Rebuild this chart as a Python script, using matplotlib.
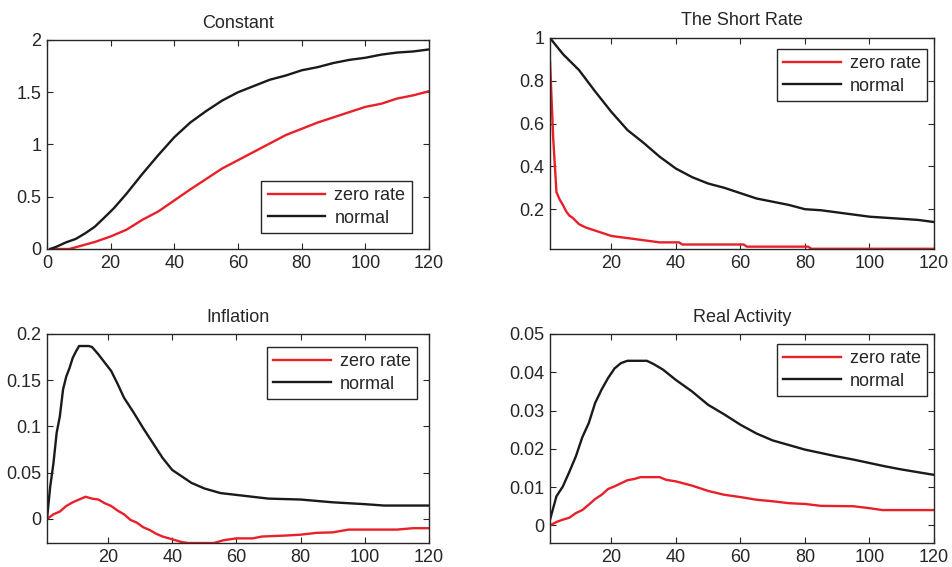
import numpy as np
import matplotlib.pyplot as plt
from matplotlib.ticker import FuncFormatter

plt.rcParams['font.family'] = ['Liberation Sans', 'DejaVu Sans']

# --- Constant ---
const_x = [1, 3, 6, 9, 12, 15, 18, 21, 25, 30, 35, 40, 45, 50, 55, 60, 65, 70, 75, 80, 85, 90, 95, 100, 105, 110, 115, 120]
const_normal = [0, 0.022, 0.064, 0.096, 0.15, 0.213, 0.30, 0.39, 0.53, 0.72, 0.90, 1.07, 1.21, 1.32, 1.42, 1.50, 1.56, 1.62, 1.66, 1.71, 1.74, 1.78, 1.81, 1.83, 1.86, 1.88, 1.89, 1.91]
const_zx = [1, 7, 10, 15, 20, 25, 30, 35, 40, 45, 50, 55, 60, 65, 70, 75, 80, 85, 90, 95, 100, 105, 110, 115, 120]
const_zero = [0, 0, 0.025, 0.067, 0.12, 0.185, 0.28, 0.36, 0.465, 0.57, 0.67, 0.77, 0.85, 0.93, 1.01, 1.09, 1.15, 1.21, 1.26, 1.31, 1.36, 1.39, 1.44, 1.47, 1.51]

# --- Short rate ---
short_x = [1, 5, 10, 15, 20, 25, 30, 35, 40, 45, 50, 55, 60, 65, 70, 75, 80, 85, 90, 95, 100, 105, 110, 115, 120]
short_normal = [1.0, 0.925, 0.85, 0.75, 0.655, 0.57, 0.51, 0.445, 0.39, 0.35, 0.32, 0.30, 0.275, 0.25, 0.235, 0.22, 0.20, 0.195, 0.185, 0.175, 0.165, 0.16, 0.155, 0.15, 0.14]
short_zx = [1, 2, 3, 4, 5, 6, 7, 8, 10, 12, 15, 18, 20, 25, 30, 35, 41, 42, 61, 62, 81, 82, 120]
short_zero = [0.89, 0.53, 0.28, 0.245, 0.22, 0.19, 0.17, 0.16, 0.13, 0.115, 0.10, 0.085, 0.075, 0.065, 0.055, 0.045, 0.045, 0.035, 0.035, 0.025, 0.025, 0.015, 0.015]

# --- Inflation ---
infl_x = [1, 2, 3, 4, 5, 6, 7, 8, 9, 10, 11, 14, 15, 17, 19, 21, 23, 25, 28, 31, 34, 37, 40, 43, 46, 50, 55, 60, 65, 70, 80, 90, 100, 106, 120]
infl_normal = [0, 0.035, 0.06, 0.093, 0.111, 0.14, 0.154, 0.163, 0.174, 0.181, 0.187, 0.187, 0.186, 0.178, 0.169, 0.16, 0.146, 0.131, 0.115, 0.098, 0.082, 0.066, 0.053, 0.046, 0.039, 0.033, 0.028, 0.026, 0.024, 0.022, 0.021, 0.018, 0.016, 0.0145, 0.0145]
infl_zx = [1, 3, 5, 7, 9, 11, 13, 15, 17, 19, 21, 23, 25, 27, 29, 31, 33, 35, 37, 40, 43, 45, 53, 56, 60, 65, 68, 75, 80, 85, 90, 95, 110, 115, 120]
infl_zero = [0, 0.005, 0.008, 0.014, 0.018, 0.021, 0.024, 0.022, 0.021, 0.017, 0.014, 0.009, 0.005, -0.001, -0.004, -0.009, -0.012, -0.016, -0.019, -0.022, -0.025, -0.026, -0.026, -0.023, -0.021, -0.021, -0.019, -0.018, -0.017, -0.015, -0.0145, -0.0115, -0.0115, -0.010, -0.010]

# --- Real activity ---
real_x = [1, 3, 5, 7, 9, 11, 13, 15, 17, 19, 21, 23, 25, 31, 33, 36, 40, 45, 50, 55, 60, 65, 70, 75, 80, 85, 90, 95, 100, 105, 110, 115, 120]
real_normal = [0.0015, 0.0076, 0.0102, 0.014, 0.018, 0.023, 0.0267, 0.032, 0.0355, 0.0385, 0.041, 0.0424, 0.043, 0.043, 0.0422, 0.0407, 0.038, 0.035, 0.0315, 0.029, 0.0263, 0.024, 0.0222, 0.021, 0.0198, 0.0189, 0.018, 0.0172, 0.0163, 0.0154, 0.0146, 0.0139, 0.0132]
real_zx = [1, 3, 5, 7, 9, 11, 13, 15, 17, 19, 21, 23, 25, 27, 29, 35, 37, 40, 45, 50, 55, 60, 65, 70, 75, 80, 85, 95, 100, 104, 120]
real_zero = [0, 0.0009, 0.0015, 0.002, 0.0032, 0.004, 0.0054, 0.0069, 0.008, 0.0095, 0.0102, 0.011, 0.0118, 0.0121, 0.0126, 0.0126, 0.0119, 0.0115, 0.0104, 0.009, 0.008, 0.0074, 0.0067, 0.0063, 0.0058, 0.0056, 0.0051, 0.005, 0.0045, 0.004, 0.004]

red = '#e8202a'
black = '#1a1a1a'
ink = '#262626'

fig = plt.figure(figsize=(9.53, 5.67), dpi=100)
W, H = 953, 567


def make_ax(l, t, r, b):
    return fig.add_axes([l / W, 1 - b / H, (r - l) / W, (b - t) / H])


panels = [
    (make_ax(47, 40, 429, 249), 'Constant', const_x, const_normal, const_zx, const_zero,
     (0, 120), (0, 2), np.arange(0, 121, 20), np.arange(0, 2.01, 0.5), (0.955, 0.325)),
    (make_ax(550, 38, 934, 249), 'The Short Rate', short_x, short_normal, short_zx, short_zero,
     (1, 120), (0.014, 1.0), np.arange(20, 121, 20), [0.2, 0.4, 0.6, 0.8, 1.0], (0.982, 0.948)),
    (make_ax(47, 334, 429, 543), 'Inflation', infl_x, infl_normal, infl_zx, infl_zero,
     (1, 120), (-0.026, 0.2), np.arange(20, 121, 20), [0, 0.05, 0.1, 0.15, 0.2], (0.969, 0.938)),
    (make_ax(550, 334, 934, 543), 'Real Activity', real_x, real_normal, real_zx, real_zero,
     (1, 120), (-0.0046, 0.05), np.arange(20, 121, 20), [0, 0.01, 0.02, 0.03, 0.04, 0.05], (0.982, 0.952)),
]

fmt = FuncFormatter(lambda v, p: '%g' % round(v, 6))

for ax, title, xn, yn, xz, yz, xl, yl, xt, yt, leg_anchor in panels:
    ax.plot(xz, yz, color=red, lw=1.7, label='zero rate')
    ax.plot(xn, yn, color=black, lw=1.7, label='normal')
    ax.set_xlim(*xl)
    ax.set_ylim(*yl)
    ax.set_xticks(xt)
    ax.set_yticks(yt)
    ax.xaxis.set_major_formatter(fmt)
    ax.yaxis.set_major_formatter(fmt)
    ax.tick_params(direction='in', length=4, width=0.8, top=True, right=True,
                   labelsize=13, colors=ink, pad=4)
    for s in ax.spines.values():
        s.set_color(ink)
        s.set_linewidth(1.0)
    ax.set_title(title, fontsize=13, color=ink, pad=9)
    leg = ax.legend(loc='upper right', bbox_to_anchor=leg_anchor, fontsize=13,
                    handlelength=3.2, handletextpad=0.5, borderpad=0.35,
                    labelspacing=0.3, fancybox=False, framealpha=1, borderaxespad=0)
    leg.get_frame().set_edgecolor(ink)
    leg.get_frame().set_linewidth(1.0)
    for t in leg.get_texts():
        t.set_color(ink)

fig.savefig('out.png', dpi=100)
